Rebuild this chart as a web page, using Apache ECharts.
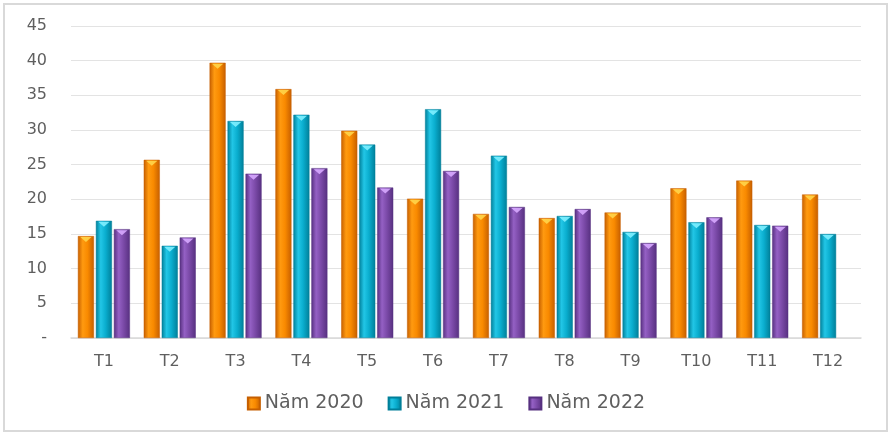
<!DOCTYPE html>
<html>
<head>
<meta charset="utf-8">
<script src="https://cdn.jsdelivr.net/npm/echarts@6/dist/echarts.min.js"></script>
<style>
html,body{margin:0;padding:0;background:#fff;}
#c{width:892px;height:439px;}
</style>
</head>
<body>
<div id="c"></div>
<script>
const categories = ['T1','T2','T3','T4','T5','T6','T7','T8','T9','T10','T11','T12'];
const seriesNames = ['Năm 2020','Năm 2021','Năm 2022'];
const values2020 = [14.7, 25.7, 39.7, 35.9, 29.9, 20.1, 17.9, 17.3, 18.1, 21.6, 22.7, 20.7];
const values2021 = [16.9, 13.3, 31.3, 32.2, 27.9, 33.0, 26.3, 17.6, 15.3, 16.7, 16.3, 15.0];
const values2022 = [15.7, 14.5, 23.7, 24.5, 21.7, 24.1, 18.9, 18.6, 13.7, 17.4, 16.2, null];
const yTicks = [0,5,10,15,20,25,30,35,40,45];

const FONT = 'DejaVu Sans, Verdana, sans-serif';
const palettes = [
  {edge:'#c65f00', mid:'#ff9a10', main:'#f98a00', cap:'#ffd54a'},
  {edge:'#007f99', mid:'#22c6e6', main:'#0aaecf', cap:'#7ff0ff'},
  {edge:'#573080', mid:'#9460c4', main:'#7b4aa8', cap:'#d7a8ff'}
];
const allValues = [values2020, values2021, values2022];

function grad(p){
  return new echarts.graphic.LinearGradient(0,0,1,0,[
    {offset:0, color:p.edge},
    {offset:0.3, color:p.mid},
    {offset:0.6, color:p.main},
    {offset:1, color:p.edge}
  ]);
}

const BAR_GAP = '12%';
const CAT_GAP = '21%';

const series = [];
allValues.forEach((vals,i)=>{
  series.push({
    name: seriesNames[i],
    type: 'bar',
    data: vals,
    barGap: BAR_GAP,
    barCategoryGap: CAT_GAP,
    itemStyle: {color: grad(palettes[i]), borderColor: palettes[i].edge, borderWidth: 0.5},
    emphasis: {disabled: true}
  });
});
allValues.forEach((vals,i)=>{
  series.push({
    name: seriesNames[i] + ' cap',
    type: 'pictorialBar',
    data: vals,
    barGap: BAR_GAP,
    barCategoryGap: CAT_GAP,
    symbol: 'triangle',
    symbolRotate: 180,
    symbolPosition: 'end',
    symbolSize: ['70%', 5],
    symbolOffset: [0, 1],
    itemStyle: {color: palettes[i].cap, opacity: 0.9},
    silent: true,
    z: 3
  });
});

const chart = echarts.init(document.getElementById('c'));
chart.setOption({
  animation: false,
  backgroundColor: '#fff',
  graphic: [{
    type: 'rect', shape: {x:4, y:4, width:883, height:427},
    style: {fill: 'none', stroke: '#d9d9d9', lineWidth: 2}, silent: true, z: -1
  }],
  grid: {left: 71, right: 31, top: 26, bottom: 101, containLabel: false},
  legend: {
    data: seriesNames,
    top: 389,
    left: 'center',
    itemWidth: 12,
    itemHeight: 12,
    itemGap: 24,
    textStyle: {fontFamily: FONT, fontSize: 19, color: '#5f5f5f'},
    icon: 'rect'
  },
  xAxis: {
    type: 'category',
    data: categories,
    axisLine: {lineStyle: {color: '#d9d9d9', width: 1.5}},
    axisTick: {show: false},
    axisLabel: {fontFamily: FONT, fontSize: 16, color: '#5f5f5f', margin: 16}
  },
  yAxis: {
    type: 'value',
    min: yTicks[0],
    max: yTicks[yTicks.length-1],
    interval: 5,
    axisLine: {show: false},
    axisTick: {show: false},
    splitLine: {lineStyle: {color: '#e3e3e3', width: 1}},
    axisLabel: {
      fontFamily: FONT, fontSize: 16, color: '#5f5f5f', margin: 24,
      formatter: v => v === 0 ? '-' : String(v)
    }
  },
  series: series
});
</script>
</body>
</html>
